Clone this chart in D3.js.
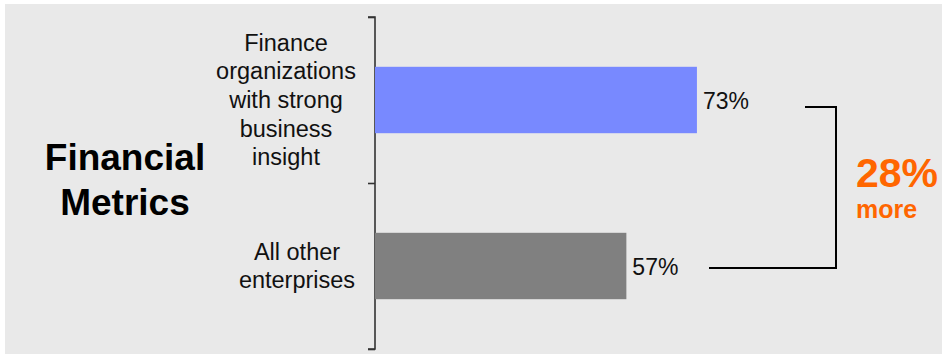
<!DOCTYPE html>
<html>
<head>
<meta charset="utf-8">
<script src="https://cdn.jsdelivr.net/npm/d3@7"></script>
<style>
  html, body { margin: 0; padding: 0; background: #fff; }
  svg { display: block; font-family: "Liberation Sans", Arial, sans-serif; }
</style>
</head>
<body>
<svg id="chart" width="942" height="354"></svg>
<script>
// Share of enterprises, by group
const categories = ["Finance organizations with strong business insight", "All other enterprises"];
const categoryLines = [["Finance", "organizations", "with strong", "business", "insight"], ["All other", "enterprises"]];
const values = [73, 57];
const valueLabels = ["73%", "57%"];
const barColors = ["#7889ff", "#808080"];
const groupTitle = ["Financial", "Metrics"];
const diffLabel = ["28%", "more"];

const svg = d3.select("#chart");

// panel background
svg.append("rect")
  .attr("x", 5).attr("y", 4)
  .attr("width", 937).attr("height", 350)
  .attr("fill", "#e9e9e9");

const x = d3.scaleLinear().domain([0, 100]).range([375, 816]);
const y = d3.scaleBand()
  .domain(categories)
  .range([17, 349])
  .paddingInner(0.6)
  .paddingOuter(0.3);

// category boundary axis (ticks between categories)
const yEdge = d3.scaleLinear().domain([0, categories.length]).range([17, 349]);
const axis = svg.append("g")
  .attr("transform", `translate(${x(0)},0)`)
  .call(d3.axisLeft(yEdge).tickValues(d3.range(categories.length + 1)).tickSize(7).tickFormat(""));
axis.select(".domain").attr("stroke", "#333").attr("stroke-width", 1.6).attr("d", `M-7,17H0V349H-7`);
axis.selectAll(".tick line").attr("stroke", "#333").attr("stroke-width", 1.6);

// bars
svg.append("g").selectAll("rect")
  .data(categories)
  .join("rect")
  .attr("x", x(0))
  .attr("y", d => y(d))
  .attr("width", (d, i) => x(values[i]) - x(0))
  .attr("height", y.bandwidth())
  .attr("fill", (d, i) => barColors[i]);

// value labels
svg.append("g").selectAll("text")
  .data(categories)
  .join("text")
  .attr("x", (d, i) => x(values[i]) + 6)
  .attr("y", d => y(d) + y.bandwidth() / 2 + 9)
  .attr("font-size", 23)
  .attr("fill", "#111")
  .text((d, i) => valueLabels[i]);

// category labels
const labelX = [286, 297];
categories.forEach((c, i) => {
  const lines = categoryLines[i];
  const lh = 28.7;
  const cy = y(c) + y.bandwidth() / 2;
  const y0 = cy - (lines.length - 1) * lh / 2;
  const t = svg.append("text")
    .attr("text-anchor", "middle")
    .attr("font-size", 23.5)
    .attr("fill", "#111");
  lines.forEach((ln, j) => {
    t.append("tspan")
      .attr("x", labelX[i])
      .attr("y", y0 + j * lh + 8)
      .text(ln);
  });
});

// group title
const title = svg.append("text")
  .attr("text-anchor", "middle")
  .attr("font-size", 37)
  .attr("font-weight", "bold")
  .attr("fill", "#000");
groupTitle.forEach((ln, j) => {
  title.append("tspan").attr("x", 125).attr("y", 170 + j * 45).text(ln);
});

// bracket connecting the two values
const yTop = y(categories[0]) + y.bandwidth() / 2 + 7;
const yBot = y(categories[1]) + y.bandwidth() / 2 + 2;
const bx = 836;
svg.append("path")
  .attr("d", `M805,${yTop}H${bx}V${yBot}H709`)
  .attr("fill", "none")
  .attr("stroke", "#000")
  .attr("stroke-width", 2);

svg.append("text")
  .attr("x", 856).attr("y", 187)
  .attr("font-size", 41).attr("font-weight", "bold")
  .attr("fill", "#ff6600")
  .text(diffLabel[0]);
svg.append("text")
  .attr("x", 856).attr("y", 218)
  .attr("font-size", 25).attr("font-weight", "bold")
  .attr("fill", "#ff6600")
  .text(diffLabel[1]);
</script>
</body>
</html>
